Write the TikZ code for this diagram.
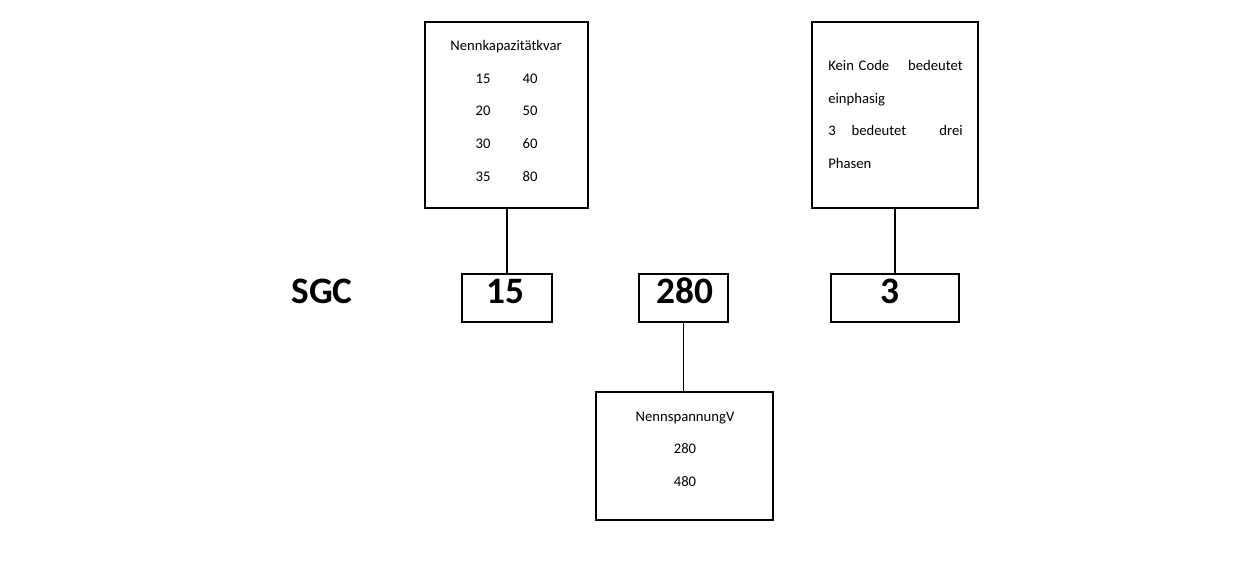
\documentclass[tikz,border=0pt]{standalone}
\usepackage{fontspec}
\setmainfont{Carlito}
\begin{document}
\begin{tikzpicture}[x=0.75pt,y=-0.75pt,
  box/.style={draw,line width=0.8pt},
  code/.style={draw,line width=1.8pt},
  t/.style={font=\fontsize{11}{13}\selectfont,inner sep=0,text height=1.5ex,text depth=0.4ex},
  big/.style={font=\fontsize{28}{32}\selectfont\bfseries,inner sep=0,text height=1.5ex,text depth=0.4ex}]
\useasboundingbox (0,0) rectangle (1240,567);
\node[box,minimum width=163*0.75pt,minimum height=186*0.75pt] (A) at (506.5,115) {};
\node[box,minimum width=166*0.75pt,minimum height=186*0.75pt] (B) at (895,115) {};
\node[box,minimum width=177*0.75pt,minimum height=128*0.75pt] (C) at (684.5,456) {};
\node[code,minimum width=90*0.75pt,minimum height=48*0.75pt] (c1) at (507,298) {};
\node[code,minimum width=89*0.75pt,minimum height=48*0.75pt] (c2) at (683.5,298) {};
\node[code,minimum width=128*0.75pt,minimum height=48*0.75pt] (c3) at (895,298) {};
\node[big] (s) at (322,300) {SGC};
\node[big] (n1) at (505,300) {15};
\node[big] (n2) at (685,300) {280};
\node[big] (n3) at (890,300) {3};
\draw[line width=1.2pt] (c1.north) -- (c1.north |- A.south);
\draw[line width=1.2pt] (c3.north) -- (c3.north |- B.south);
\draw[line width=1.2pt] (c2.south) -- (c2.south |- C.north);
\node[t] (a0) at (506,47) {Nennkapazitätkvar};
\node[t] (a1) at (483,80) {15}; \node[t] (b1) at (530,80) {40};
\node[t] (a2) at (483,112) {20}; \node[t] (b2) at (530,112) {50};
\node[t] (a3) at (483,145) {30}; \node[t] (b3) at (530,145) {60};
\node[t] (a4) at (483,178) {35}; \node[t] (b4) at (530,178) {80};
\node[t,anchor=west] (k1) at (828,67) {Kein};
\node[t] (k2) at (874,67) {Code};
\node[t,anchor=east] (k3) at (963,67) {bedeutet};
\node[t,anchor=west] (k4) at (828,100) {einphasig};
\node[t,anchor=west] (k5) at (828,132) {3};
\node[t] (k6) at (879,132) {bedeutet};
\node[t,anchor=east] (k7) at (963,132) {drei};
\node[t,anchor=west] (k8) at (828,165) {Phasen};
\node[t] (p0) at (685,418) {NennspannungV};
\node[t] (p1) at (685,450) {280};
\node[t] (p2) at (685,483) {480};
\end{tikzpicture}
\end{document}
